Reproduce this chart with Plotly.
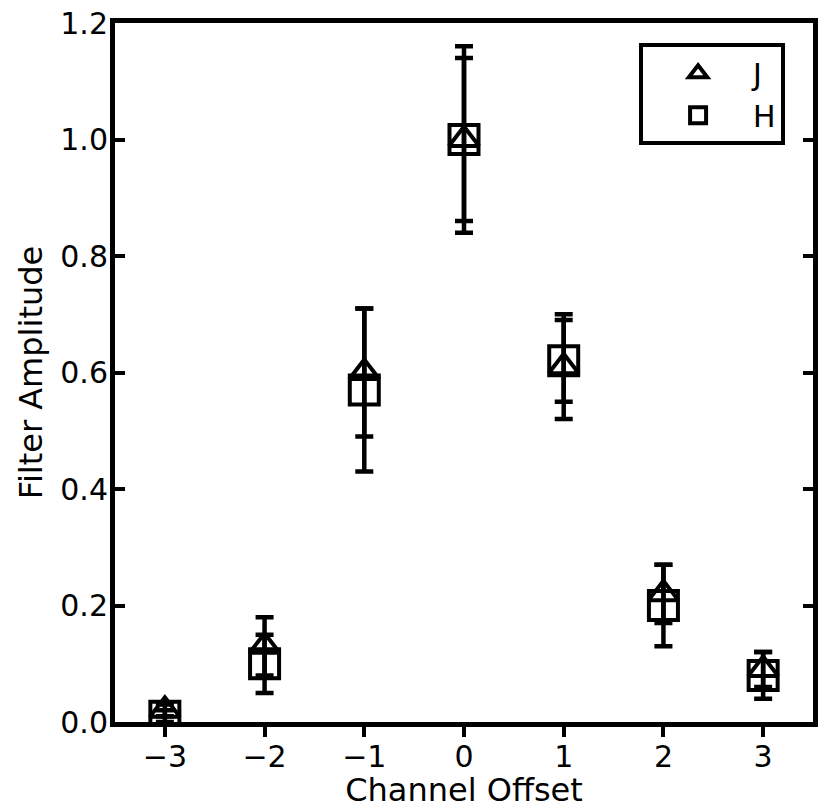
import plotly.graph_objects as go

offsets = [-3, -2, -1, 0, 1, 2, 3]
amp_ticks = [0.0, 0.2, 0.4, 0.6, 0.8, 1.0, 1.2]

j_amp = [0.02, 0.13, 0.60, 1.00, 0.61, 0.22, 0.09]
j_err = [0.01, 0.05, 0.11, 0.14, 0.09, 0.05, 0.03]

h_amp = [0.01, 0.10, 0.57, 1.00, 0.62, 0.20, 0.08]
h_err = [0.01, 0.05, 0.14, 0.16, 0.07, 0.07, 0.04]

font = 'DejaVu Sans'


def series(y, err, name, symbol, size):
    return go.Scatter(
        x=offsets, y=y, name=name, mode='markers',
        marker=dict(symbol=symbol, size=size, color='black',
                    line=dict(color='black', width=4)),
        error_y=dict(type='data', array=err, visible=True,
                     color='black', thickness=4.5, width=9),
    )


fig = go.Figure([
    series(j_amp, j_err, 'J', 'triangle-up-open', 26),
    series(h_amp, h_err, 'H', 'square-open', 29),
])

# the page body has an 8px margin, so the figure is a little smaller
fig.update_layout(
    width=822, height=801,
    margin=dict(l=107, r=17, t=15, b=87),
    paper_bgcolor='white', plot_bgcolor='white',
    font=dict(family=font, size=30, color='black'),
    showlegend=True,
    legend=dict(x=0.96, y=0.971, xanchor='right', yanchor='top',
                bordercolor='black', borderwidth=4, bgcolor='white',
                font=dict(size=30), itemwidth=100,
                tracegroupgap=0),
)

fig.update_xaxes(
    range=[-3.5, 3.5], tickvals=offsets, automargin=False,
    showline=True, linecolor='black', linewidth=5, mirror=True,
    ticks='outside', ticklen=10, tickwidth=4, tickcolor='black',
    ticklabelstandoff=-6,
    showgrid=False, zeroline=False,
    title=dict(text='Channel Offset', font=dict(size=32), standoff=0),
)
fig.update_yaxes(
    range=[0, 1.2], tickvals=amp_ticks, tickformat='.1f', automargin=False,
    showline=True, linecolor='black', linewidth=5, mirror='ticks',
    ticks='inside', ticklen=10, tickwidth=4, tickcolor='black',
    ticklabelstandoff=-4, ticklabeloverflow='allow',
    showgrid=False, zeroline=False,
    title=dict(text='Filter Amplitude', font=dict(size=32), standoff=10),
)

fig.write_html('out.html')
